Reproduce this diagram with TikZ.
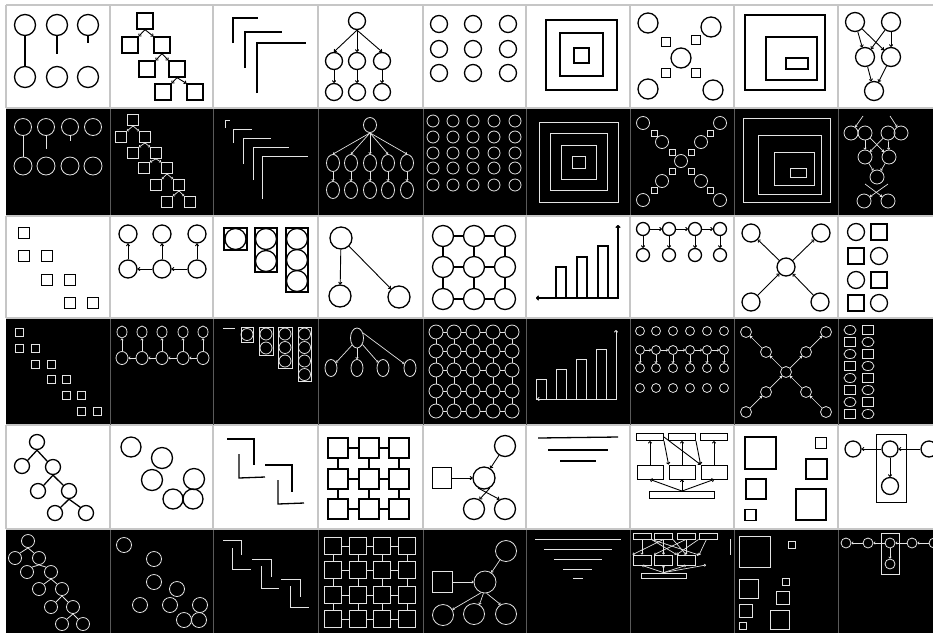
\documentclass[tikz,border=0pt]{standalone}
\usetikzlibrary{arrows.meta,shapes.geometric}
\definecolor{lg}{HTML}{E4E4E4}
\definecolor{sepw}{HTML}{C6C6C6}
\definecolor{sepb}{HTML}{5A5A5A}
\begin{document}
\begin{tikzpicture}[x=1pt,y=-1pt,
  W/.style={draw=black,line width=1.3pt},
  WT/.style={draw=black,line width=0.9pt},
  B/.style={draw=lg,line width=0.8pt},
  wc/.style={W,circle,inner sep=0pt,minimum size=#1pt},
  bc/.style={B,circle,inner sep=0pt,minimum size=#1pt},
  we/.style 2 args={W,ellipse,inner sep=0pt,minimum width=#1pt,minimum height=#2pt},
  be/.style 2 args={B,ellipse,inner sep=0pt,minimum width=#1pt,minimum height=#2pt},
  ws/.style={W,rectangle,inner sep=0pt,minimum size=#1pt},
  bs/.style={B,rectangle,inner sep=0pt,minimum size=#1pt},
  wr/.style 2 args={W,rectangle,inner sep=0pt,minimum width=#1pt,minimum height=#2pt},
  wtr/.style 2 args={WT,rectangle,inner sep=0pt,minimum width=#1pt,minimum height=#2pt},
  br/.style 2 args={B,rectangle,inner sep=0pt,minimum width=#1pt,minimum height=#2pt},
  wa/.style={draw=black,line width=0.9pt,-{To[length=2.5pt,width=4pt]}},
  ba/.style={draw=lg,line width=0.7pt,-{To[length=2pt,width=3pt]}},
]
\useasboundingbox (0,0) rectangle (933,633);
\fill[white] (0,0) rectangle (933,633);
\fill[black] (6,109) rectangle (933,215);
\fill[black] (6,319) rectangle (933,425);
\fill[black] (6,530) rectangle (933,633);
\foreach \ya/\yb in {5/108,216/318,425/529}{
  \draw[sepw,line width=1.2pt] (6,\ya) -- (933,\ya) (6,\yb) -- (933,\yb);
  \foreach \x in {6,110,213,318,423,526,630,734,838} \draw[sepw,line width=1.2pt] (\x,\ya) -- (\x,\yb);
}
\foreach \ya/\yb in {109/215,319/425,530/633}{
  \foreach \x in {110,213,318,423,526,630,734,838} \draw[sepb,line width=1pt] (\x,\ya) -- (\x,\yb);
}
% ===== ROW 1 =====
% r1c1
\foreach \i/\x in {1/25,2/57,3/88}{
  \node[wc=21] (c11t\i) at (\x,25) {};
  \node[wc=21] (c11b\i) at (\x,77) {};
}
\coordinate (c11e2) at (57,54);
\coordinate (c11e3) at (88,43);
\draw[W] (c11t1) -- (c11b1);
\draw[W] (c11t2) -- (c11e2);
\draw[W] (c11t3) -- (c11e3);
% r1c2
\foreach \n/\x/\y in {a/145/21,b/130/45,c/162/45,d/147/69,e/177/69,f/163/92,g/195/92}
  \node[ws=16] (c12\n) at (\x,\y) {};
\foreach \p/\l/\r in {a/b/c,c/d/e,e/f/g}{
  \draw[wa] (c12\p.south) -- (c12\l.north east);
  \draw[wa] (c12\p.south) -- (c12\r.north west);
}
% r1c3
\draw[W] (233,43) -- (233,18) -- (258,18);
\draw[W] (245,68) -- (245,32) -- (282,32);
\draw[W] (257,93) -- (257,43) -- (306,43);
% r1c4
\node[wc=17] (c14r) at (357,21) {};
\foreach \i/\x in {1/334,2/357,3/382}{
  \node[wc=17] (c14c\i) at (\x,61) {};
  \node[wc=17] (c14g\i) at (\x,92) {};
  \draw[wa] (c14r.south) -- (c14c\i.north);
  \draw[wa] (c14c\i) -- (c14g\i);
}
% r1c5
\foreach \x in {439,473,508} \foreach \y in {24,49,73} \node[wc=17] (c15-\x-\y) at (\x,\y) {};
% r1c6
\draw[W] (546,20) rectangle (617,90) (560,33) rectangle (603,76) (574,48) rectangle (589,63);
% r1c7
\foreach \n/\x/\y in {a/648/23,b/711/27,c/648/89,d/713/90,e/681/58} \node[wc=20] (c17\n) at (\x,\y) {};
\foreach \n/\x/\y in {a/666/42,b/696/40,c/666/73,d/696/73} \node[ws=9] (c17s\n) at (\x,\y) {};
% r1c8
\draw[W] (745,15) rectangle (825,90) (766,37) rectangle (817,80) (786,58) rectangle (808,69);
% r1c9
\foreach \n/\x/\y in {a/855/22,b/891/22,c/865/57,d/891/57,e/874/91} \node[wc=19] (c19\n) at (\x,\y) {};
\draw[wa] (c19a) -- (c19c); \draw[wa] (c19a) -- (c19d);
\draw[wa] (c19b) -- (c19c); \draw[wa] (c19b) -- (c19d);
\draw[wa] (c19c) -- (c19e); \draw[wa] (c19d) -- (c19e);
% ===== ROW 2 =====
% r2c1
\foreach \i/\x in {1/23,2/46,3/70,4/93}{
  \node[bc=17] (c21t\i) at (\x,127) {};
  \node[bc=18] (c21b\i) at (\x,166) {};
}
\coordinate (c21e2) at (46,149); \coordinate (c21e3) at (70,141);
\draw[B] (c21t1) -- (c21b1); \draw[B] (c21t2) -- (c21e2); \draw[B] (c21t3) -- (c21e3);
% r2c2
\foreach \n/\x/\y in {a/133/120,b/121/137,c/145/137,d/133/153,e/156/153,f/144/168,g/167/168,h/156/185,i/179/185,j/167/202,k/190/202}
  \node[bs=11] (c22\n) at (\x,\y) {};
\foreach \p/\l/\r in {a/b/c,c/d/e,e/f/g,g/h/i,i/j/k}{
  \draw[ba] (c22\p.south) -- (c22\l.north east);
  \draw[ba] (c22\p.south) -- (c22\r.north west);
}
% r2c3
\draw[B] (225,128) -- (225,120) -- (230,120);
\draw[B] (233,143) -- (233,129) -- (252,129);
\draw[B] (243,164) -- (243,138) -- (271,138);
\draw[B] (253,180) -- (253,147) -- (289,147);
\draw[B] (262,199) -- (262,156) -- (308,156);
% r2c4
\node[be={13}{15}] (c24r) at (370,125) {};
\foreach \i/\x in {1/333,2/351,3/370,4/388,5/407}{
  \node[be={13}{17}] (c24c\i) at (\x,163) {};
  \node[be={13}{17}] (c24g\i) at (\x,190) {};
  \draw[ba] (c24r.south) -- (c24c\i.north);
  \draw[ba] (c24c\i) -- (c24g\i);
}
% r2c5
\foreach \x in {433,453,473,494,515} \foreach \y in {121,137,153,168,185} \node[bc=12] (c25-\x-\y) at (\x,\y) {};
% r2c6
\draw[B] (539,122) rectangle (618,202) (550,133) rectangle (607,190) (561,145) rectangle (596,179) (572,156) rectangle (585,168);
% r2c7
\foreach \n/\x/\y in {a/643/123,b/720/123,c/643/200,d/720/200,e/662/142,f/701/142,g/662/181,h/701/181,i/681/161} \node[bc=13] (c27\n) at (\x,\y) {};
\foreach \n/\x/\y in {a/654/133,b/710/133,c/654/190,d/710/190,e/672/152,f/691/152,g/672/171,h/691/171} \node[bs=6] (c27s\n) at (\x,\y) {};
% r2c8
\draw[B] (743,118) rectangle (830,202) (758,135) rectangle (821,194) (774,152) rectangle (814,185) (790,168) rectangle (806,177);
% r2c9
\foreach \n/\x/\y in {a/851/133,b/865/133,c/888/133,d/901/133,e/865/157,f/889/157,g/877/177,h/864/201,i/888/201} \node[bc=14] (c29\n) at (\x,\y) {};
\coordinate (c29s1) at (863,116); \coordinate (c29s2) at (890,116);
\coordinate (c29s3) at (865,184); \coordinate (c29s4) at (888,184);
\draw[ba] (c29s1) -- (c29a); \draw[ba] (c29s2) -- (c29d);
\draw[ba] (c29b) -- (c29e); \draw[ba] (c29b) -- (c29f);
\draw[ba] (c29c) -- (c29f); \draw[ba] (c29c) -- (c29e);
\draw[ba] (c29e) -- (c29g); \draw[ba] (c29f) -- (c29g);
\draw[ba] (c29s4) -- (c29h); \draw[ba] (c29s3) -- (c29i);
% ===== ROW 3 =====
% r3c1
\foreach \n/\x/\y in {a/24/233,b/24/256,c/47/256,d/47/280,e/70/280,f/70/303,g/93/303} \node[ws=11] (c31\n) at (\x,\y) {};
% r3c2
\foreach \i/\x in {1/128,2/162,3/197}{
  \node[wc=18] (c32t\i) at (\x,234) {};
  \node[wc=18] (c32b\i) at (\x,269) {};
  \draw[wa] (c32b\i) -- (c32t\i);
}
\draw[wa] (c32b2) -- (c32b1); \draw[wa] (c32b3) -- (c32b2);
% r3c3
\node[wr={23}{22}] (c33r1) at (235.5,239) {};
\node[wr={22}{44}] (c33r2) at (266,250) {};
\node[wr={22}{64}] (c33r3) at (297,260) {};
\node[wc=21] (c33a) at (235.5,239) {};
\node[wc=21] (c33b) at (266,239) {}; \node[wc=21] (c33c) at (266,261) {};
\node[wc=21] (c33d) at (297,239) {}; \node[wc=21] (c33e) at (297,260) {}; \node[wc=21] (c33f) at (297,281) {};
% r3c4
\node[wc=22] (c34a) at (341,238) {}; \node[wc=22] (c34b) at (340,296) {}; \node[wc=22] (c34c) at (399,297) {};
\draw[wa] (c34a) -- (c34b); \draw[wa] (c34a) -- (c34c);
% r3c5
\foreach \i/\x in {1/443,2/474,3/505} \foreach \j/\y in {1/236,2/267,3/299} \node[wc=21] (c35-\i-\j) at (\x,\y) {};
\foreach \i/\n in {1/2,2/3} \foreach \j in {1,2,3} {\draw[W] (c35-\i-\j) -- (c35-\n-\j); \draw[W] (c35-\j-\i) -- (c35-\j-\n);}
% r3c6
\draw[W,{To[length=3pt,width=5pt]}-{To[length=3pt,width=5pt]}] (536,298) -- (618,298) -- (618,225);
\draw[W] (556,298) rectangle (566,267) (577,298) rectangle (587,257) (598,298) rectangle (608,246);
% r3c7
\foreach \i/\x in {1/643,2/669,3/695,4/720}{
  \node[wc=13] (c37t\i) at (\x,229) {};
  \node[wc=13] (c37b\i) at (\x,255) {};
  \draw[wa] (c37t\i) -- (c37b\i);
}
\foreach \i/\n in {1/2,2/3,3/4} \draw[wa] (c37t\i) -- (c37t\n);
% r3c8
\foreach \n/\x/\y in {a/751/233,b/821/233,c/786/267,d/751/302,e/820/302} \node[wc=18] (c38\n) at (\x,\y) {};
\draw[wa] (c38c) -- (c38a); \draw[wa] (c38c) -- (c38b); \draw[wa] (c38d) -- (c38c); \draw[wa] (c38e) -- (c38c);
% r3c9
\node[wc=17] (c39a) at (856,232) {}; \node[ws=16] (c39b) at (879,232) {};
\node[ws=16] (c39c) at (856,256) {}; \node[wc=17] (c39d) at (879,256) {};
\node[wc=17] (c39e) at (856,280) {}; \node[ws=16] (c39f) at (879,280) {};
\node[ws=16] (c39g) at (856,303) {}; \node[wc=17] (c39h) at (879,303) {};
% ===== ROW 4 =====
% r4c1
\foreach \n/\x/\y in {a/19/332,b/19/348,c/35/348,d/35/364,e/51/364,f/51/379,g/66/379,h/66/395,i/81/395,j/81/411,k/97/411} \node[bs=8] (c41\n) at (\x,\y) {};
% r4c2
\foreach \i/\x in {1/122,2/142,3/162,4/183,5/203}{
  \node[be={10}{12}] (c42t\i) at (\x,332) {};
  \node[be={12}{13}] (c42b\i) at (\x,358) {};
  \draw[ba] (c42b\i) -- (c42t\i);
}
\foreach \i/\n in {1/2,2/3,3/4,4/5} \draw[ba] (c42b\n) -- (c42b\i);
% r4c3
\draw[B] (223,328) -- (235,328);
\node[br={12}{15}] (c43r1) at (247,334.5) {};
\node[br={14}{28}] (c43r2) at (266,341) {};
\node[br={14}{41}] (c43r3) at (285,347.5) {};
\node[br={13}{54}] (c43r4) at (304.5,354) {};
\node[bc=12] (c43a) at (247,334.5) {};
\foreach \i/\y in {1/334,2/348} \node[bc=12] (c43b\i) at (266,\y) {};
\foreach \i/\y in {1/334,2/347.5,3/361} \node[bc=12] (c43c\i) at (285,\y) {};
\foreach \i/\y in {1/334,2/347.5,3/361,4/374.5} \node[bc=12] (c43d\i) at (304.5,\y) {};
% r4c4
\node[be={13}{20}] (c44r) at (357,338) {};
\foreach \i/\x in {1/331,2/357,3/383,4/410} \node[be={12}{17}] (c44c\i) at (\x,368) {};
\draw[ba] (c44r.235) -- (c44c1); \draw[ba] (c44r) -- (c44c2);
\draw[ba] (c44r.310) -- (c44c3); \draw[ba] (c44r.40) -- (c44c4);
% r4c5
\foreach \i/\x in {1/436,2/454,3/473,4/493,5/512} \foreach \j/\y in {1/332,2/351,3/370,4/391,5/411} \node[bc=14] (c45-\i-\j) at (\x,\y) {};
\foreach \i/\n in {1/2,2/3,3/4,4/5} \foreach \j in {1,...,5} {\draw[B] (c45-\i-\j) -- (c45-\n-\j); \draw[B] (c45-\j-\i) -- (c45-\j-\n);}
% r4c6
\draw[B,{To[length=2.5pt,width=4pt]}-{To[length=2.5pt,width=4pt]}] (537,399) -- (616,399) -- (616,330);
\draw[B] (536,399) rectangle (546,379) (556,399) rectangle (566,369) (576,399) rectangle (586,359) (596,399) rectangle (606,349);
% r4c7
\foreach \i/\x in {1/640,2/656,3/673,4/690,5/707,6/724} \foreach \j/\y in {1/331,2/350,3/368,4/388} \node[bc=9] (c47-\i-\j) at (\x,\y) {};
\foreach \i/\n in {1/2,2/3,3/4,4/5,5/6} \draw[ba] (c47-\i-2) -- (c47-\n-2);
\foreach \i in {1,...,6} \draw[ba] (c47-\i-2) -- (c47-\i-3);
% r4c8
\foreach \n/\x/\y in {a/746/332,b/826/332,c/746/412,d/826/412,e/766/352,f/806/352,g/766/392,h/806/392,i/786/372} \node[bc=11] (c48\n) at (\x,\y) {};
\draw[ba] (c48i) -- (c48e); \draw[ba] (c48e) -- (c48a); \draw[ba] (c48i) -- (c48f); \draw[ba] (c48f) -- (c48b);
\draw[ba] (c48c) -- (c48g); \draw[ba] (c48g) -- (c48i); \draw[ba] (c48d) -- (c48h); \draw[ba] (c48h) -- (c48i);
% r4c9
\foreach \i/\y in {1/330,3/354,5/378,7/402}{
  \node[be={12}{9}] (c49e\i) at (850,\y) {};
  \node[br={11}{9}] (c49s\i) at (868,\y) {};
}
\foreach \i/\y in {2/342,4/366,6/390,8/414}{
  \node[br={11}{9}] (c49s\i) at (850,\y) {};
  \node[be={12}{9}] (c49e\i) at (868,\y) {};
}
% ===== ROW 5 =====
% r5c1
\foreach \n/\x/\y in {a/37/442,b/22/466,c/53/467,d/38/491,e/69/491,f/55/513,g/86/513} \node[wc=15] (c51\n) at (\x,\y) {};
\foreach \p/\l/\r in {a/b/c,c/d/e,e/f/g}{
  \draw[W] (c51\p.south) -- (c51\l.north east);
  \draw[W] (c51\p.south) -- (c51\r.north west);
}
% r5c2
\foreach \n/\x/\y/\d in {a/131/447/20,b/162/458/21,c/152/480/21,d/194/479/21,e/173/499/20,f/193/499/20} \node[wc=\d] (c52\n) at (\x,\y) {};
% r5c3
\draw[W] (227,439) -- (254,439) -- (254,465);
\draw[W] (239,454) -- (239,478) -- (265,477);
\draw[W] (265,465) -- (292,465) -- (292,492);
\draw[W] (278,480) -- (278,504) -- (304,503);
% r5c4
\foreach \i/\x in {1/338,2/369,3/399} \foreach \j/\y in {1/448,2/479,3/509} \node[ws=20] (c54-\i-\j) at (\x,\y) {};
\foreach \i/\n in {1/2,2/3} \foreach \j in {1,2,3} {\draw[W] (c54-\i-\j) -- (c54-\n-\j); \draw[W] (c54-\j-\i) -- (c54-\j-\n);}
% r5c5
\node[wr={19}{21}] (c55s) at (442,478) {};
\node[wc=22] (c55m) at (484,478) {};
\node[wc=21] (c55t) at (505,446) {};
\node[wc=21] (c55l) at (474,509) {};
\node[wc=21] (c55r) at (505,509) {};
\draw[wa] (c55s) -- (c55m); \draw[wa] (c55t) -- (c55m);
\draw[wa] (c55m.-60) -- (c55l.60); \draw[wa] (c55m.-120) -- (c55r.120);
% r5c6
\draw[W] (538,438) -- (618,437); \draw[W] (548,450) -- (608,450); \draw[W] (560,461) -- (596,461);
% r5c7
\foreach \i/\x in {1/650,2/682,3/714}{
  \node[wtr={27}{7}] (c57t\i) at (\x,437) {};
  \node[wtr={26}{14}] (c57m\i) at (\x,472) {};
  \draw[wa] (c57m\i) -- (c57t\i);
}
\node[wtr={65}{7}] (c57b) at (682,495) {};
\draw[wa] (c57t1.south east) -- (c57m2.north west);
\draw[wa] (c57t1.east) -- (c57m3.north west);
\draw[wa] (c57t2.south east) -- (c57m3.north west);
\foreach \i in {1,2,3} \draw[wa] (c57b.north) -- (c57m\i.south);
% r5c8
\node[wr={31}{32}] (c58a) at (760.5,453) {};
\node[ws=11] (c58b) at (821,443) {};
\node[wr={21}{20}] (c58c) at (816.5,469) {};
\node[ws=20] (c58d) at (756,489) {};
\node[ws=11] (c58e) at (750.5,515) {};
\node[wr={30}{31}] (c58f) at (811,504.5) {};
% r5c9
\node[wtr={30}{68}] (c59box) at (891,468) {};
\node[wc=16] (c59l) at (853,449) {};
\node[wc=16] (c59m) at (890,449) {};
\node[wc=16] (c59r) at (929,449) {};
\node[wc=17] (c59b) at (890,486) {};
\draw[wa] (c59m) -- (c59l); \draw[wa] (c59r) -- (c59m); \draw[wa] (c59m) -- (c59b);
% ===== ROW 6 =====
% r6c1
\foreach \n/\x/\y in {a/28/541,b/15/558,c/39/558,d/27/572,e/51/572,f/39/589,g/62/589,h/51/607,i/73/607,j/62/624,k/83/624} \node[bc=13] (c61\n) at (\x,\y) {};
\foreach \p/\l/\r in {a/b/c,c/d/e,e/f/g,g/h/i,i/j/k}{
  \draw[B] (c61\p.south) -- (c61\l.north east);
  \draw[B] (c61\p.south) -- (c61\r.north west);
}
% r6c2
\foreach \n/\x/\y in {a/124/545,b/154/559,c/154/582,d/177/589,e/140/605,f/170/605,g/200/605,h/184/620,i/199/620} \node[bc=15] (c62\n) at (\x,\y) {};
% r6c3
\draw[B] (223,540) -- (241,540) -- (241,555);
\draw[B] (232,548) -- (232,569) -- (251,569);
\draw[B] (252,559) -- (271,559) -- (271,577);
\draw[B] (261,566) -- (261,588) -- (279,588);
\draw[B] (281,579) -- (300,579) -- (300,597);
\draw[B] (290,586) -- (290,607) -- (309,607);
% r6c4
\foreach \i/\x in {1/333,2/358,3/382,4/407} \foreach \j/\y in {1/546,2/570,3/595,4/619} \node[bs=17] (c64-\i-\j) at (\x,\y) {};
\foreach \i/\n in {1/2,2/3,3/4} \foreach \j in {1,...,4} {\draw[B] (c64-\i-\j) -- (c64-\n-\j); \draw[B] (c64-\j-\i) -- (c64-\j-\n);}
% r6c5
\node[br={20}{21}] (c65s) at (442,582) {};
\node[bc=22] (c65m) at (485,582) {};
\node[bc=21] (c65t) at (506,551) {};
\node[bc=21] (c65a) at (443,615) {};
\node[bc=21] (c65b) at (474,614) {};
\node[bc=21] (c65c) at (506,614) {};
\draw[ba] (c65s) -- (c65m); \draw[ba] (c65t) -- (c65m);
\draw[ba] (c65m.250) -- (c65a); \draw[ba] (c65m.262) -- (c65b.60); \draw[ba] (c65m.278) -- (c65c.120);
% r6c6
\draw[B] (535,539) -- (621,539) (544,549) -- (612,549) (554,559) -- (602,559) (563,569) -- (592,569) (573,578) -- (583,578);
% r6c7
\foreach \i/\x in {1/642,2/663.5,3/686}{
  \node[br={18}{10}] (c67m\i) at (\x,560) {};
}
\foreach \i/\x in {1/642,2/663.5,3/686,4/708}{
  \node[br={18}{6}] (c67t\i) at (\x,536) {};
}
\node[br={45}{5}] (c67b) at (663.5,575.5) {};
\coordinate (c67x) at (699,555);
\coordinate (c67y) at (706,565);
\draw[ba] (c67t1) -- (c67m1); \draw[ba] (c67t2) -- (c67m2); \draw[ba] (c67t3) -- (c67m3); \draw[ba] (c67t4) -- (c67x);
\draw[ba] (c67t1.south east) -- (c67m3.north west); \draw[ba] (c67t1.south east) -- (c67x);
\draw[ba] (c67t2.south) -- (c67m1.north west); \draw[ba] (c67t3.south) -- (c67m2.north west);
\draw[ba] (c67t4.south west) -- (c67m3.north west); \draw[ba] (c67t2.south east) -- (c67m3.north);
\foreach \i in {1,2,3} \draw[ba] (c67b.north) -- (c67m\i.south);
\draw[ba] (c67b.north) -- (c67y);
\draw[B] (730,539) -- (730,555);
% r6c8
\foreach \n/\x/\y/\s in {a/754.5/551.5/31,b/792/545/7,c/748.5/588.5/19,d/786/582/7,e/783/597.5/13,f/745.5/610.5/13,g/742.5/626/7,h/780/620/19} \node[bs=\s] (c68\n) at (\x,\y) {};
% r6c9
\node[br={18}{41}] (c69box) at (890,553.5) {};
\foreach \i/\x in {1/846,2/868,3/890,4/912,5/934} \node[bc=10] (c69c\i) at (\x,543) {};
\node[bc=10] (c69d) at (890,564) {};
\foreach \i/\n in {1/2,2/3,3/4,4/5} \draw[ba] (c69c\n) -- (c69c\i);
\draw[ba] (c69c3) -- (c69d);
\end{tikzpicture}
\end{document}
